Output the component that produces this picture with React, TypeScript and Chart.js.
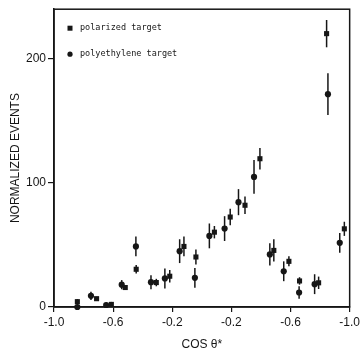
import React, { useEffect, useRef } from "react";
import { Chart, registerables } from "chart.js";

Chart.register(...registerables);

// polarized target (squares)
const polX = [-0.842, -0.712, -0.612, -0.518, -0.444, -0.308, -0.217, -0.121, -0.04, 0.085, 0.192, 0.292, 0.393, 0.487, 0.589, 0.661, 0.79, 0.844, 0.964];
const polY = [4.3, 6.7, 2.1, 15.7, 30.4, 19.7, 24.8, 48.8, 40.3, 60.3, 72.5, 82, 119.5, 45.6, 36.8, 21, 19.5, 220.3, 63];
const polErr = [2, 1.5, 2, 2, 3.5, 3, 5, 8, 6, 5, 6.7, 7, 8.7, 9, 4, 3, 5, 11, 5.7];

// polyethylene target (circles)
const polyX = [-0.842, -0.75, -0.647, -0.542, -0.446, -0.344, -0.25, -0.15, -0.047, 0.051, 0.154, 0.248, 0.353, 0.46, 0.554, 0.658, 0.763, 0.853, 0.933];
const polyY = [0, 9, 1.6, 18, 48.8, 20, 23, 45, 23.5, 57.3, 63.2, 84.5, 104.8, 42.4, 28.8, 11.7, 18.4, 171.5, 51.7];
const polyErr = [2, 3.3, 2, 3.7, 8, 5.6, 8, 9.6, 8, 10, 10, 10.5, 13.6, 9, 8, 5, 8, 16.8, 8];

const xTickValues = [-1.0, -0.6, -0.2, 0.2, 0.6, 1.0];
const xTickLabels = ["-1.0", "-0.6", "-0.2", "-0.2", "-0.6", "-1.0"];
const yTickValues = [0, 100, 200];

const seriesLabels = ["polarized target", "polyethylene target"];
const errorSets = [polErr, polyErr];

const INK = "#161616";

const extrasPlugin = {
  id: "extras",
  beforeDatasetsDraw(chart: any) {
    const ctx = chart.ctx;
    const xs = chart.scales.x;
    const ys = chart.scales.y;
    ctx.save();
    ctx.strokeStyle = INK;
    ctx.lineWidth = 1.5;
    chart.data.datasets.forEach((ds: any, i: number) => {
      const errs = errorSets[i];
      ds.data.forEach((p: any, j: number) => {
        const e = errs[j];
        const px = xs.getPixelForValue(p.x);
        const y1 = ys.getPixelForValue(Math.max(0, p.y - e));
        const y2 = ys.getPixelForValue(p.y + e);
        ctx.beginPath();
        ctx.moveTo(px, y1);
        ctx.lineTo(px, y2);
        ctx.stroke();
      });
    });
    ctx.restore();
  },
  afterDraw(chart: any) {
    const ctx = chart.ctx;
    const a = chart.chartArea;
    ctx.save();
    ctx.strokeStyle = INK;
    ctx.lineWidth = 1.5;
    ctx.strokeRect(a.left, a.top, a.right - a.left, a.bottom - a.top);
    // legend
    ctx.fillStyle = INK;
    ctx.font = "8.5px 'DejaVu Sans Mono', monospace";
    ctx.textBaseline = "middle";
    const lx = a.left + 16;
    const rows = [a.top + 19, a.top + 45];
    ctx.fillRect(lx - 2.5, rows[0] - 2.5, 5, 5);
    ctx.beginPath();
    ctx.arc(lx, rows[1], 2.6, 0, Math.PI * 2);
    ctx.fill();
    ctx.fillText(seriesLabels[0], lx + 10, rows[0]);
    ctx.fillText(seriesLabels[1], lx + 10, rows[1]);
    ctx.restore();
  },
};

export default function App() {
  const ref = useRef<HTMLCanvasElement | null>(null);
  useEffect(() => {
    if (!ref.current) return;
    const chart = new Chart(ref.current, {
      type: "scatter",
      data: {
        datasets: [
          {
            label: seriesLabels[0],
            data: polX.map((x, i) => ({ x, y: polY[i] })),
            pointStyle: "rect",
            pointRadius: 3.6,
            backgroundColor: INK,
            borderColor: INK,
            borderWidth: 0,
            clip: false,
          },
          {
            label: seriesLabels[1],
            data: polyX.map((x, i) => ({ x, y: polyY[i] })),
            pointStyle: "circle",
            pointRadius: 3.1,
            backgroundColor: INK,
            borderColor: INK,
            borderWidth: 0,
            clip: false,
          },
        ],
      },
      options: {
        animation: false,
        responsive: false,
        maintainAspectRatio: false,
        layout: { padding: { left: 0, right: 10, top: 7, bottom: 0 } },
        plugins: { legend: { display: false }, tooltip: { enabled: false } },
        scales: {
          x: {
            type: "linear",
            min: -1,
            max: 1,
            afterBuildTicks: (s: any) => {
              s.ticks = xTickValues.map((v) => ({ value: v }));
            },
            afterFit: (s: any) => {
              s.height = 45;
            },
            ticks: {
              color: INK,
              font: { family: "'Liberation Sans', Arial, sans-serif", size: 12 },
              padding: 3,
              maxRotation: 0,
              autoSkip: false,
              callback: (_v: any, i: number) => xTickLabels[i],
            },
            grid: { display: true, drawOnChartArea: false, drawTicks: true, tickLength: 5, color: INK, lineWidth: 1.2 },
            border: { display: true, color: INK, width: 1.5 },
            title: {
              display: true,
              text: "COS θ*",
              color: INK,
              font: { family: "'Liberation Sans', Arial, sans-serif", size: 12 },
              padding: { top: 0, bottom: 0 },
            },
          },
          y: {
            type: "linear",
            min: 0,
            max: 240,
            afterBuildTicks: (s: any) => {
              s.ticks = yTickValues.map((v) => ({ value: v }));
            },
            afterFit: (s: any) => {
              s.width = 54;
            },
            ticks: {
              color: INK,
              font: { family: "'Liberation Sans', Arial, sans-serif", size: 12 },
              padding: 2,
              callback: (v: any) => String(v),
            },
            grid: { display: true, drawOnChartArea: false, drawTicks: true, tickLength: 6, color: INK, lineWidth: 1.2 },
            border: { display: true, color: INK, width: 1.5 },
            title: {
              display: true,
              text: "NORMALIZED EVENTS",
              color: INK,
              font: { family: "'Liberation Sans', Arial, sans-serif", size: 12 },
              padding: { top: 8, bottom: 0 },
            },
          },
        },
      },
      plugins: [extrasPlugin],
    } as any);
    return () => chart.destroy();
  }, []);
  return (
    <div style={{ position: "absolute", left: 0, top: 0, width: 363, height: 352, background: "#fff" }}>
      <canvas ref={ref} width={363} height={352} style={{ width: 363, height: 352, display: "block" }} />
    </div>
  );
}
